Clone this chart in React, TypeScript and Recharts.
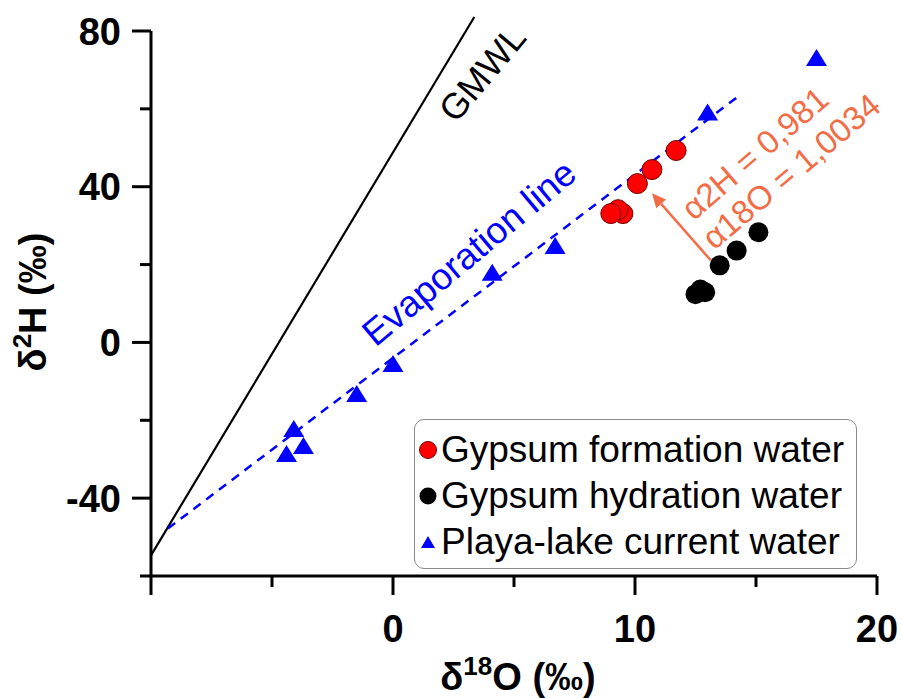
import React from 'react';
import {
  ScatterChart, Scatter, XAxis, YAxis, ReferenceLine, ReferenceDot, Legend,
} from 'recharts';

// δ18O / δ2H values
const formationWater = [
  { x: 11.7, y: 49.3 },
  { x: 10.7, y: 44.4 },
  { x: 10.1, y: 40.8 },
  { x: 9.5, y: 33.1 },
  { x: 9.3, y: 34.1 },
  { x: 9.0, y: 33.1 },
];

const hydrationWater = [
  { x: 15.1, y: 28.3 },
  { x: 14.2, y: 23.6 },
  { x: 13.5, y: 19.8 },
  { x: 12.9, y: 12.9 },
  { x: 12.7, y: 13.6 },
  { x: 12.5, y: 12.4 },
];

const playaLake = [
  { x: 17.5, y: 73.2 },
  { x: 13.0, y: 59.2 },
  { x: 6.7, y: 24.9 },
  { x: 4.1, y: 18.0 },
  { x: 0.0, y: -5.4 },
  { x: -1.5, y: -13.1 },
  { x: -4.1, y: -22.1 },
  { x: -3.7, y: -26.5 },
  { x: -4.4, y: -28.5 },
];

const gmwlLine = [{ x: -10, y: -54.7 }, { x: 3.36, y: 83.6 }];
const evaporationLine = [{ x: -9.3, y: -47.8 }, { x: 14.2, y: 62.9 }];
const fractionationArrow = [{ x: 13.13, y: 21.1 }, { x: 10.7, y: 38.3 }];

const xTicks = [-10, -5, 0, 5, 10, 15, 20];
const xMajorTicks = [-10, 0, 10, 20];
const xTickLabels = [0, 10, 20];
const yTicks = [-60, -40, -20, 0, 20, 40, 60, 80];
const yMajorTicks = [-40, 0, 40, 80];
const yTickLabels = [-40, 0, 40, 80];

const legendItems = [
  'Gypsum formation water',
  'Gypsum hydration water',
  'Playa-lake current water',
];

const annotations = [
  { text: 'GMWL', x: 3.69, y: 69.1, angle: -50, color: '#000000', size: 36 },
  { text: 'Evaporation line', x: 3.15, y: 23.0, angle: -40, color: '#0000FF', size: 37 },
  { text: 'α2H = 0,981', x: 14.95, y: 48.6, angle: -41, color: '#F26D45', size: 33 },
  { text: 'α18O = 1,0034', x: 16.45, y: 44.0, angle: -40, color: '#F26D45', size: 33 },
];

const FONT = '"Liberation Sans", Arial, sans-serif';
const ORANGE = '#F26D45';
const BLUE = '#0000FF';
const PLOT_LEFT = 151;
const PLOT_BOTTOM = 576;

const XTick = (props: any) => {
  const { x, payload } = props;
  const v = payload.value;
  const len = xMajorTicks.includes(v) ? 19 : 11;
  return (
    <g>
      <line x1={x} x2={x} y1={PLOT_BOTTOM} y2={PLOT_BOTTOM + len} stroke="#000" strokeWidth={3} />
      {xTickLabels.includes(v) && (
        <text x={x} y={642} textAnchor="middle" fontFamily={FONT} fontSize={38} fontWeight="bold" fill="#000">
          {v}
        </text>
      )}
    </g>
  );
};

const YTick = (props: any) => {
  const { y, payload } = props;
  const v = payload.value;
  const len = yMajorTicks.includes(v) ? 19 : 11;
  return (
    <g>
      <line x1={PLOT_LEFT - len} x2={PLOT_LEFT} y1={y} y2={y} stroke="#000" strokeWidth={3} />
      {yTickLabels.includes(v) && (
        <text x={121} y={y + 13.5} textAnchor="end" fontFamily={FONT} fontSize={38} fontWeight="bold" fill="#000">
          {v}
        </text>
      )}
    </g>
  );
};

const RedDot = (p: any) => (
  <circle cx={p.cx} cy={p.cy} r={10} fill="#FF0000" stroke="#700000" strokeWidth={1} />
);
const BlackDot = (p: any) => <circle cx={p.cx} cy={p.cy} r={10} fill="#000" />;
const BlueTriangle = (p: any) => (
  <polygon
    points={`${p.cx},${p.cy - 8.5} ${p.cx + 10.5},${p.cy + 8.5} ${p.cx - 10.5},${p.cy + 8.5}`}
    fill={BLUE}
  />
);

const ArrowShape = (p: any) => {
  const { x1, y1, x2, y2 } = p;
  const ang = Math.atan2(y2 - y1, x2 - x1);
  const L = 14;
  const W = 6.5;
  const bx = x2 - L * Math.cos(ang);
  const by = y2 - L * Math.sin(ang);
  const px = -Math.sin(ang) * W;
  const py = Math.cos(ang) * W;
  return (
    <g>
      <line x1={x1} y1={y1} x2={bx} y2={by} stroke={ORANGE} strokeWidth={2.5} />
      <polygon points={`${x2},${y2} ${bx + px},${by + py} ${bx - px},${by - py}`} fill={ORANGE} />
    </g>
  );
};

const makeLabel = (text: string, angle: number, color: string, size: number) => (p: any) => (
  <text
    x={p.cx}
    y={p.cy}
    transform={`rotate(${angle} ${p.cx} ${p.cy})`}
    textAnchor="middle"
    dominantBaseline="central"
    fontFamily={FONT}
    fontSize={size}
    fill={color}
  >
    {text}
  </text>
);

const renderLegend = () => (
  <div
    style={{
      position: 'relative',
      width: 443,
      height: 150,
      boxSizing: 'border-box',
      border: '1.5px solid #8a8a8a',
      borderRadius: 10,
      background: '#fff',
      fontFamily: FONT,
      fontSize: 37,
      color: '#000',
    }}
  >
    {legendItems.map((name, i) => (
      <div
        key={name}
        style={{
          position: 'absolute',
          left: 0,
          top: 30 + i * 46 - 23,
          height: 46,
          display: 'flex',
          alignItems: 'center',
          whiteSpace: 'nowrap',
        }}
      >
        <svg width={26} height={26}>
          {i === 0 && <circle cx={13} cy={13} r={8.5} fill="#FF0000" stroke="#700000" strokeWidth={1} />}
          {i === 1 && <circle cx={13} cy={13} r={8.5} fill="#000" />}
          {i === 2 && <polygon points="13,7 20,19 6,19" fill={BLUE} />}
        </svg>
        <span>{name}</span>
      </div>
    ))}
  </div>
);

export default function App() {
  return (
    <div style={{ position: 'absolute', left: 0, top: 0, width: 901, height: 698, background: '#fff' }}>
      <ScatterChart width={901} height={698} margin={{ top: 31, right: 24, bottom: 62, left: 71 }}>
        <XAxis
          type="number"
          dataKey="x"
          domain={[-10, 20]}
          ticks={xTicks}
          interval={0}
          allowDataOverflow
          height={60}
          axisLine={{ stroke: '#000', strokeWidth: 3 }}
          tickLine={false}
          tick={<XTick />}
          label={{
            content: () => (
              <text x={518} y={690} textAnchor="middle" fontFamily={FONT} fontSize={38} fontWeight="bold" fill="#000">
                δ<tspan dy={-15} fontSize={26}>18</tspan>
                <tspan dy={15}>O (‰)</tspan>
              </text>
            ),
          }}
        />
        <YAxis
          type="number"
          dataKey="y"
          domain={[-60, 80]}
          ticks={yTicks}
          interval={0}
          allowDataOverflow
          width={80}
          axisLine={{ stroke: '#000', strokeWidth: 3 }}
          tickLine={false}
          tick={<YTick />}
          label={{
            content: () => (
              <text
                x={46}
                y={302}
                transform="rotate(-90 46 302)"
                textAnchor="middle"
                fontFamily={FONT}
                fontSize={38}
                fontWeight="bold"
                fill="#000"
              >
                δ<tspan dy={-15} fontSize={26}>2</tspan>
                <tspan dy={15}>H (‰)</tspan>
              </text>
            ),
          }}
        />
        <ReferenceLine segment={gmwlLine} ifOverflow="visible" stroke="#000" strokeWidth={2.2} />
        <Scatter name={legendItems[0]} data={formationWater} shape={RedDot} isAnimationActive={false} />
        <Scatter name={legendItems[1]} data={hydrationWater} shape={BlackDot} isAnimationActive={false} />
        <Scatter name={legendItems[2]} data={playaLake} shape={BlueTriangle} isAnimationActive={false} />
        <ReferenceLine
          segment={evaporationLine}
          ifOverflow="visible"
          stroke={BLUE}
          strokeWidth={2.5}
          strokeDasharray="9 7"
        />
        <ReferenceLine segment={fractionationArrow} ifOverflow="visible" shape={ArrowShape} />
        {annotations.map((a) => (
          <ReferenceDot
            key={a.text}
            x={a.x}
            y={a.y}
            r={0}
            ifOverflow="visible"
            shape={makeLabel(a.text, a.angle, a.color, a.size)}
          />
        ))}
        <Legend
          layout="vertical"
          align="center"
          verticalAlign="middle"
          content={renderLegend}
          wrapperStyle={{ left: 414, top: 419, width: 443, height: 150 }}
        />
      </ScatterChart>
    </div>
  );
}
